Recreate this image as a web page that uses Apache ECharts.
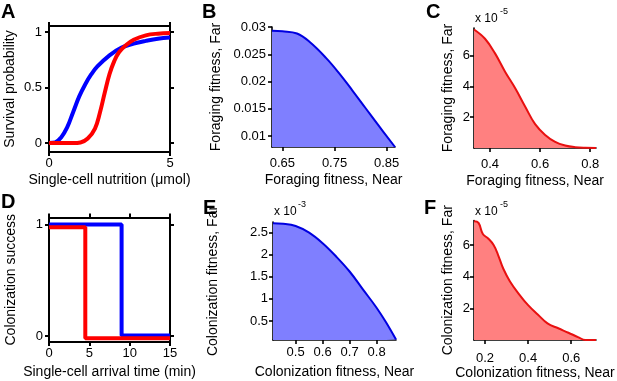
<!DOCTYPE html>
<html><head><meta charset="utf-8">
<script src="https://cdn.jsdelivr.net/npm/echarts@6/dist/echarts.min.js"></script>
<style>html,body{margin:0;padding:0;background:#fff}#c{width:617px;height:381px}</style>
</head><body><div id="c"></div><script>
// ---------- data ----------
// Panel A: survival probability vs single-cell nutrition (µmol)
const nutritionBlue = [0, 0.25, 0.5, 0.75, 1.0, 1.25, 1.5, 1.75, 2.0, 2.5, 3.0, 3.5, 4.0, 4.5, 5.0];
const survivalBlue  = [0, 0.005, 0.05, 0.14, 0.28, 0.42, 0.53, 0.62, 0.69, 0.79, 0.86, 0.895, 0.92, 0.94, 0.95];
const nutritionRed  = [0, 1.0, 1.3, 1.6, 1.9, 2.1, 2.3, 2.5, 2.7, 2.9, 3.2, 3.5, 4.0, 4.5, 5.0];
const survivalRed   = [0, 0, 0.005, 0.04, 0.13, 0.27, 0.45, 0.62, 0.74, 0.82, 0.885, 0.93, 0.97, 0.985, 0.99];
const aXTicks = [0, 5];
const aYTicks = [0, 0.5, 1];

// Panel B: foraging fitness Far vs Near (blue)
const foragingNearB = [0.63, 0.65, 0.678, 0.703, 0.734, 0.759, 0.784, 0.809, 0.834, 0.866];
const foragingFarB  = [0.0293, 0.0292, 0.0288, 0.0272, 0.0243, 0.0215, 0.0184, 0.0152, 0.0120, 0.0080];
const bXTicks = [0.65, 0.75, 0.85];
const bYTicks = [0.01, 0.015, 0.02, 0.025, 0.03];

// Panel C: foraging fitness Far (x 1e-5) vs Near (red)
const foragingNearC = [0.336, 0.38, 0.42, 0.46, 0.50, 0.54, 0.58, 0.62, 0.66, 0.70, 0.74, 0.78, 0.823];
const foragingFarC  = [7.7, 7.1, 6.15, 4.96, 3.9, 2.7, 1.55, 0.85, 0.4, 0.16, 0.05, 0.01, 0];
const cXTicks = [0.4, 0.6, 0.8];
const cYTicks = [2, 4, 6];

// Panel D: colonization success vs single-cell arrival time (min)
const arrivalBlue = [0, 9, 9, 15];
const successBlue = [1, 1, 0.005, 0.005];
const arrivalRed  = [0, 4.5, 4.5, 15];
const successRed  = [0.975, 0.975, -0.02, -0.02];
const dXTicks = [0, 5, 10, 15];
const dYTicks = [0, 1];

// Panel E: colonization fitness Far (x 1e-3) vs Near (blue)
const colonNearE = [0.416, 0.454, 0.50, 0.55, 0.60, 0.65, 0.70, 0.75, 0.80, 0.835, 0.872];
const colonFarE  = [2.71, 2.70, 2.65, 2.5, 2.26, 1.96, 1.62, 1.21, 0.8, 0.47, 0.08];
const eXTicks = [0.5, 0.6, 0.7, 0.8];
const eYTicks = [0.5, 1, 1.5, 2, 2.5];

// Panel F: colonization fitness Far (x 1e-5) vs Near (red)
const colonNearF = [0.149, 0.17, 0.19, 0.216, 0.24, 0.26, 0.285, 0.316, 0.355, 0.40, 0.446, 0.49, 0.54, 0.587, 0.634, 0.665, 0.715];
const colonFarF  = [7.5, 7.4, 6.7, 6.4, 6.0, 5.4, 4.5, 3.7, 2.95, 2.2, 1.6, 1.05, 0.74, 0.46, 0.17, 0.0, 0.0];
const fXTicks = [0.2, 0.4, 0.6];
const fYTicks = [2, 4, 6];

// ---------- helpers ----------
const FONT = '"Liberation Sans", Arial, Helvetica, sans-serif';
const zip = (xs, ys) => xs.map((x, i) => [x, ys[i]]);

function axis(gridIndex, position, min, max, ticks, o) {
  o = o || {};
  return {
    type: 'value', gridIndex, position, min, max,
    name: o.name || '', nameLocation: 'middle', nameGap: o.nameGap || 20,
    nameTextStyle: { fontFamily: FONT, fontSize: 14, color: '#000' },
    axisLine: { show: true, onZero: false, lineStyle: { color: '#000', width: o.lw || 1.6 } },
    axisTick: { show: true, inside: false, length: 4, customValues: ticks, lineStyle: { color: '#000', width: o.lw || 1.6 } },
    axisLabel: { show: o.labels !== false, customValues: ticks, margin: o.margin || 5, fontFamily: FONT, fontSize: 13, color: '#000' },
    splitLine: { show: false }
  };
}

const grids = [
  { left: 49,  top: 26,    width: 121, height: 126 },   // A
  { left: 272, top: 27,    width: 123, height: 120 },   // B
  { left: 474, top: 28,    width: 122, height: 120 },   // C
  { left: 49,  top: 217.5, width: 121, height: 124.5 }, // D
  { left: 273, top: 222,   width: 123, height: 118 },   // E
  { left: 474, top: 220.5, width: 122, height: 119.5 }  // F
].map(g => Object.assign({ containLabel: false, outerBoundsMode: 'none' }, g));

const xAxis = [
  axis(0, 'bottom', 0, 5, aXTicks, { name: 'Single-cell nutrition (\u03bcmol)', nameGap: 21, lw: 2, margin: 5 }),
  axis(1, 'bottom', 0.63, 0.866, bXTicks, { name: 'Foraging fitness, Near', nameGap: 26, margin: 10 }),
  axis(2, 'bottom', 0.336, 0.823, cXTicks, { name: 'Foraging fitness, Near', nameGap: 26, margin: 10 }),
  axis(3, 'bottom', 0, 15, dXTicks, { name: 'Single-cell arrival time (min)', nameGap: 23, lw: 2, margin: 5 }),
  axis(4, 'bottom', 0.416, 0.872, eXTicks, { name: 'Colonization fitness, Near', nameGap: 25, margin: 6 }),
  axis(5, 'bottom', 0.149, 0.715, fXTicks, { name: 'Colonization fitness, Near', nameGap: 25, margin: 12 }),
  axis(0, 'top', 0, 5, aXTicks, { labels: false, lw: 2 }),
  axis(3, 'top', 0, 15, dXTicks, { labels: false, lw: 2 })
];
const yAxis = [
  axis(0, 'left', -0.081, 1.054, aYTicks, { name: 'Survival probability', nameGap: 32, lw: 2, margin: 7 }),
  axis(1, 'left', 0.008, 0.03, bYTicks, { name: 'Foraging fitness, Far', nameGap: 49, margin: 6 }),
  axis(2, 'left', 0, 7.8, cYTicks, { name: 'Foraging fitness, Far', nameGap: 19, margin: 4 }),
  axis(3, 'left', -0.054, 1.063, dYTicks, { name: 'Colonization success', nameGap: 31, lw: 2, margin: 6 }),
  axis(4, 'left', 0.07, 2.74, eYTicks, { name: 'Colonization fitness, Far', nameGap: 53, margin: 5 }),
  axis(5, 'left', 0, 7.55, fYTicks, { name: 'Colonization fitness, Far', nameGap: 19, margin: 4 }),
  axis(0, 'right', -0.081, 1.054, aYTicks, { labels: false, lw: 2 }),
  axis(3, 'right', -0.054, 1.063, dYTicks, { labels: false, lw: 2 })
];

function lineSeries(xi, yi, data, color, width, extra) {
  return Object.assign({
    type: 'line', xAxisIndex: xi, yAxisIndex: yi, data, showSymbol: false, symbol: 'none',
    lineStyle: { color, width }, clip: true, z: 3
  }, extra || {});
}

const series = [
  lineSeries(0, 0, zip(nutritionBlue, survivalBlue), '#0000ff', 4, { smooth: 0.4 }),
  lineSeries(0, 0, zip(nutritionRed, survivalRed), '#ff0000', 4, { smooth: 0.4 }),
  lineSeries(1, 1, zip(foragingNearB, foragingFarB), '#0000e0', 2, { smooth: 0.4, areaStyle: { color: '#7f7fff', opacity: 1, origin: 'start' } }),
  lineSeries(2, 2, zip(foragingNearC, foragingFarC), '#e81010', 2, { smooth: 0.4, areaStyle: { color: '#ff8080', opacity: 1, origin: 'start' } }),
  lineSeries(3, 3, zip(arrivalBlue, successBlue), '#0000ff', 4),
  lineSeries(3, 3, zip(arrivalRed, successRed), '#ff0000', 4),
  lineSeries(4, 4, zip(colonNearE, colonFarE), '#0000e0', 2, { smooth: 0.4, areaStyle: { color: '#7f7fff', opacity: 1, origin: 'start' } }),
  lineSeries(5, 5, zip(colonNearF, colonFarF), '#e81010', 2, { smooth: 0.4, areaStyle: { color: '#ff8080', opacity: 1, origin: 'start' } })
];

function txt(x, y, text, size, bold) {
  return { type: 'text', left: x, top: y, z: 10,
    style: { text, fontFamily: FONT, fontSize: size, fontWeight: bold ? 'bold' : 'normal', fill: '#000' } };
}
const graphic = [
  txt(1, 2, 'A', 20, true), txt(202, 2, 'B', 20, true), txt(426, 2, 'C', 20, true),
  txt(1, 192, 'D', 20, true), txt(203, 198, 'E', 20, true), txt(424, 198, 'F', 20, true),
  txt(475, 13, 'x 10', 12), txt(500, 7, '-5', 9),
  txt(274, 206, 'x 10', 12), txt(298, 200, '-3', 9),
  txt(475, 206, 'x 10', 12), txt(500, 200, '-5', 9)
];

const chart = echarts.init(document.getElementById('c'), null, { renderer: 'canvas' });
chart.setOption({ animation: false, backgroundColor: '#fff', grid: grids, xAxis, yAxis, series, graphic });
</script></body></html>
